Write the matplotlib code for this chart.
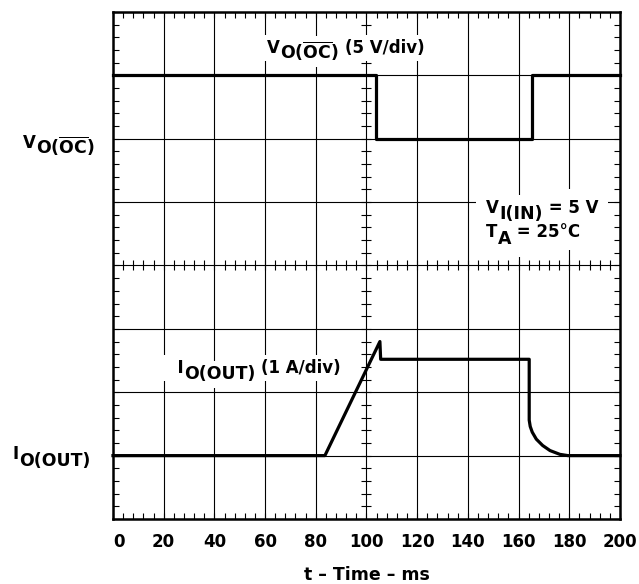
import numpy as np
import matplotlib
matplotlib.use('Agg')
import matplotlib.pyplot as plt
from matplotlib.ticker import MultipleLocator

plt.rcParams['font.family'] = 'DejaVu Sans'
plt.rcParams['font.weight'] = 'bold'
plt.rcParams['mathtext.fontset'] = 'dejavusans'

# scope traces, time in ms, level in screen divisions (0 = bottom, 8 = top)
vo_time = [0, 103.6, 103.6, 165.4, 165.4, 200]
vo_div = [7, 7, 6, 6, 7, 7]

io_time = [0, 83.6, 105.3, 105.6, 164.2, 164.2, 164.6, 165.4, 167.0, 169.5, 172.4, 176.3, 179.5, 200]
io_div = [1, 1, 2.80, 2.52, 2.52, 1.56, 1.46, 1.37, 1.26, 1.16, 1.08, 1.02, 1.0, 1.0]

xticks = list(range(0, 201, 20))
xtick_labels = [str(v) for v in xticks]

fig = plt.figure(figsize=(6.39, 5.84), dpi=100)
ax = fig.add_axes([0.1768, 0.1113, 0.7934, 0.8682])

ax.set_xlim(0, 200)
ax.set_ylim(0, 8)
ax.set_xticks(xticks)
ax.set_xticklabels(xtick_labels)
ax.set_yticks(range(0, 9))
ax.set_yticklabels([])
ax.xaxis.set_minor_locator(MultipleLocator(4))
ax.yaxis.set_minor_locator(MultipleLocator(0.2))
ax.tick_params(which='both', direction='in', top=True, right=True,
               length=4.5, width=0.8, color='black')
ax.tick_params(axis='x', labelsize=12, pad=10)
ax.xaxis.get_major_ticks()[0].label1.set_horizontalalignment('left')
ax.grid(True, which='major', color='black', linewidth=0.8)
for s in ax.spines.values():
    s.set_linewidth(1.8)

# center graticule cross ticks
xc = np.arange(4, 200, 4)
yc = np.arange(0.2, 8, 0.2)
ax.plot(np.full_like(yc, 100), yc, ls='none', marker='_', ms=7, mew=0.8, color='black')
ax.plot(xc, np.full_like(xc, 4), ls='none', marker='|', ms=7, mew=0.8, color='black')

ax.plot(vo_time, vo_div, color='black', lw=2.3, zorder=5, clip_on=False)
ax.plot(io_time, io_div, color='black', lw=2.3, zorder=5, clip_on=False)

ax.set_xlabel('t – Time – ms', fontsize=12.5, fontweight='bold', labelpad=11)


def rich(x, y, parts, pad=3):
    # parts: (text, fontsize, dx points, dy points) placed one after another
    # first pass draws white boxes only, second pass the text on top
    for layer in ('bg', 'fg'):
        first = prev = None
        for text, size, dx, dy in parts:
            kw = dict(fontsize=size, ha='left', fontweight='bold')
            if layer == 'bg':
                kw.update(color='none', zorder=3,
                          bbox=dict(facecolor='white', edgecolor='none', pad=pad))
            else:
                kw.update(color='black', zorder=3.5)
            if first is None:
                t = ax.text(x, y, text, va='baseline', **kw)
                first = t
            else:
                t = ax.annotate(text, xy=(1, 0), xycoords=(prev, first),
                                xytext=(dx, dy), textcoords='offset points',
                                va='bottom', **kw)
            prev = t


vo_name = [('V', 12, 0, 0), (r'$\mathbf{O(\overline{OC})}$', 12.5, 0.3, -4.3)]
io_name = [('I', 12, 0, 0), ('O(OUT)', 12.5, 0.3, -4.5)]

rich(60.75, 7.35, vo_name + [('(5 V/div)', 12, 4.5, 0)])
rich(-35.6, 5.85, vo_name, pad=0)
rich(-39.8, 0.94, io_name, pad=0)
rich(21.0, 2.30, [('  I', 12, 0, 0), ('O(OUT)', 12.5, 0.3, -4.5), ('(1 A/div)', 12, 4, 0)])
rich(147.1, 4.83, [('V', 12, 0, 0), ('I(IN)', 12.5, 0.3, -4.3), (' = 5 V', 12, 0, 0)], pad=7)
rich(147.1, 4.455, [('T', 12, 0, 0), ('A', 12.5, 0.3, -5), (' = 25°C', 12, 0, 0)], pad=7)

fig.savefig('out.png', dpi=100)
